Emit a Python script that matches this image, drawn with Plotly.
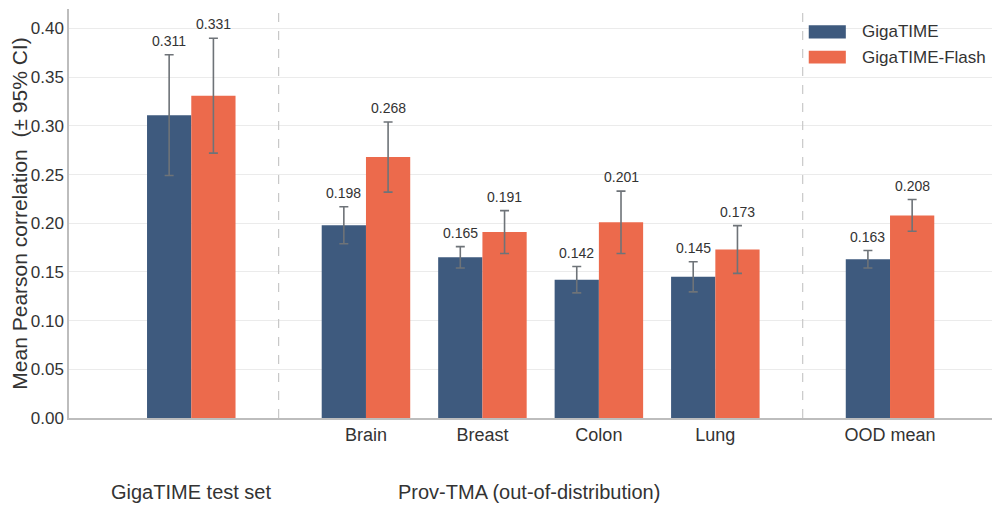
import plotly.graph_objects as go

# Data
groups = ["GigaTIME test set", "Brain", "Breast", "Colon", "Lung", "OOD mean"]
group_x = [0, 1.5, 2.5, 3.5, 4.5, 6]
tick_text = ["", "Brain", "Breast", "Colon", "Lung", "OOD mean"]
gigatime = [0.311, 0.198, 0.165, 0.142, 0.145, 0.163]
gigatime_err = [0.062, 0.019, 0.011, 0.0135, 0.0155, 0.009]
flash = [0.331, 0.268, 0.191, 0.201, 0.173, 0.208]
flash_err = [0.059, 0.036, 0.022, 0.032, 0.0245, 0.0163]
series_names = ["GigaTIME", "GigaTIME-Flash"]
separators = [0.75, 5.25]
section_labels = ["GigaTIME test set", "Prov-TMA (out-of-distribution)"]
section_x = [0, 2.9]

BLUE = "#3e5a7e"
ORANGE = "#ec6a4c"
ERR = "#6e7378"
TXT = "#333333"
FONT = "Liberation Sans, Arial, Helvetica, sans-serif"
BW = 0.38

fig = go.Figure()
fig.add_trace(go.Bar(
    name=series_names[0], x=group_x, y=gigatime, width=BW, offset=-BW,
    marker=dict(color=BLUE, line=dict(width=0)),
    error_y=dict(type="data", array=gigatime_err, color=ERR, thickness=1.6, width=4.5),
))
fig.add_trace(go.Bar(
    name=series_names[1], x=group_x, y=flash, width=BW, offset=0,
    marker=dict(color=ORANGE, line=dict(width=0)),
    error_y=dict(type="data", array=flash_err, color=ERR, thickness=1.6, width=4.5),
))

annotations = []
for vals, errs, off in [(gigatime, gigatime_err, -BW / 2), (flash, flash_err, BW / 2)]:
    for x, v, e in zip(group_x, vals, errs):
        annotations.append(dict(
            x=x + off, y=v + e, xref="x", yref="y", text=f"{v:.3f}", showarrow=False,
            yanchor="bottom", yshift=4, font=dict(family=FONT, size=14, color=TXT),
        ))
for lbl, x in zip(section_labels, section_x):
    annotations.append(dict(
        x=x, y=-0.181, xref="x", yref="paper", text=lbl, showarrow=False,
        yanchor="middle", font=dict(family=FONT, size=20, color=TXT),
    ))

shapes = [dict(type="line", xref="x", yref="paper", x0=s, x1=s, y0=0, y1=1,
               line=dict(color="#c8c8c8", width=1.2, dash="dash")) for s in separators]

# manual legend with wide swatches (paper coords)
leg_colors = [BLUE, ORANGE]
leg_y = [(0.928, 0.960), (0.867, 0.898)]
for name, col, (y0, y1) in zip(series_names, leg_colors, leg_y):
    shapes.append(dict(type="rect", xref="paper", yref="paper", x0=0.798, x1=0.838,
                       y0=y0, y1=y1, fillcolor=col, line=dict(width=0)))
    annotations.append(dict(x=0.853, y=(y0 + y1) / 2, xref="paper", yref="paper",
                            text=name, showarrow=False, xanchor="left", yanchor="middle",
                            font=dict(family=FONT, size=17, color=TXT)))

fig.update_layout(
    width=992, height=501,
    margin=dict(l=61, r=4, t=1, b=91),
    paper_bgcolor="white", plot_bgcolor="white",
    font=dict(family=FONT, size=17, color=TXT),
    barmode="overlay",
    showlegend=False,
    annotations=annotations,
    shapes=shapes,
)
fig.update_xaxes(
    range=[-1.05, 6.91], tickvals=group_x, ticktext=tick_text,
    showgrid=False, showline=True, linecolor="#bdbdbd", linewidth=1.5,
    ticks="", tickfont=dict(size=18, color=TXT), zeroline=False,
)
fig.update_yaxes(
    range=[0, 0.42], dtick=0.05, tickformat=".2f",
    showgrid=True, gridcolor="#ebebeb", gridwidth=1,
    showline=True, linecolor="#bdbdbd", linewidth=1.5, zeroline=False,
    ticks="", tickfont=dict(size=17, color=TXT),
    title=dict(text="Mean Pearson correlation  (± 95% CI)", font=dict(size=21, color=TXT), standoff=4),
)

fig.write_html("out.html")
